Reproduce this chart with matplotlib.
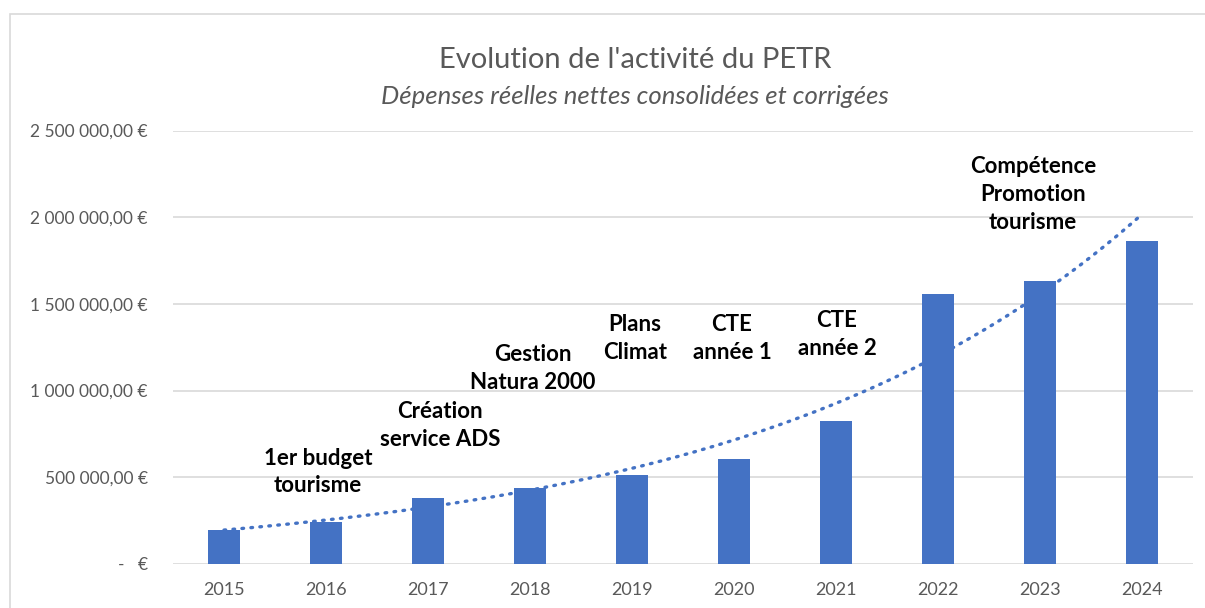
from matplotlib import pyplot as plt
from matplotlib.patches import Rectangle
import numpy as np

plt.rcParams['font.family'] = ['Lato', 'DejaVu Sans']

years = ['2015', '2016', '2017', '2018', '2019', '2020', '2021', '2022', '2023', '2024']
depenses = [194000, 243000, 381000, 441000, 511000, 606000, 825000, 1557000, 1632000, 1861000]

y_ticks = [0, 500000, 1000000, 1500000, 2000000, 2500000]
y_labels = ['-   €', '500 000,00 €', '1 000 000,00 €', '1 500 000,00 €',
            '2 000 000,00 €', '2 500 000,00 €']

events = ['1er budget\ntourisme', 'Création\nservice ADS', 'Gestion\nNatura 2000',
          'Plans\nClimat', 'CTE\nannée 1', 'CTE\nannée 2',
          'Compétence\nPromotion\ntourisme']

title = "Evolution de l'activité du PETR"
subtitle = 'Dépenses réelles nettes consolidées et corrigées'

# where each event label sits (category index, value)
event_pos = [(0.92, 530000), (2.12, 800000), (3.03, 1129000), (4.03, 1302000),
             (4.98, 1302000), (6.01, 1325000), (7.93, 2131000)]

blue = '#4472C4'
grey = '#595959'
grid = '#D9D9D9'

#--------------------------------------------------------------------------------
fig = plt.figure(figsize=(12.05, 6.08), dpi=100)
fig.patches.append(Rectangle((10/1205, -0.1), 1.2, 1.1 - 14/608, transform=fig.transFigure,
                             fill=False, edgecolor=grid, linewidth=1.2))

ax = fig.add_axes([173/1205, 44/608, 1020/1205, 433.5/608])
x = np.arange(len(years))
ax.bar(x, depenses, width=0.31, color=blue, zorder=3)

# exponential trend line (like excel)
b, a = np.polyfit(x, np.log(depenses), 1)
xt = np.linspace(0, len(years) - 1, 200)
ax.plot(xt, np.exp(a + b*xt), linestyle=(0, (0.5, 2.2)), color=blue,
        linewidth=2.4, dash_capstyle='round', zorder=4)

for txt, (px, py) in zip(events, event_pos):
    ax.text(px, py, txt, ha='center', va='center', fontsize=16, fontweight='bold',
            color='black', linespacing=1.4, zorder=5)

ax.set_xlim(-0.5, len(years) - 0.5)
ax.set_ylim(0, 2500000)
ax.set_xticks(x)
ax.set_xticklabels(years)
ax.set_yticks(y_ticks)
ax.set_yticklabels(y_labels)
ax.tick_params(axis='both', length=0, labelcolor=grey)
ax.tick_params(axis='y', pad=18, labelsize=12.5)
ax.tick_params(axis='x', pad=13, labelsize=13)
ax.grid(axis='y', color=grid, linewidth=1.2, zorder=0)
for s in ax.spines.values():
    s.set_visible(False)

fig.text(635/1205, 1 - 60/608, title, ha='center', va='center', fontsize=21,
         color=grey)
fig.text(635/1205, 1 - 97/608, subtitle, ha='center', va='center', fontsize=18.5,
         color=grey, style='italic')

plt.savefig('out.png', dpi=100)
plt.close()
